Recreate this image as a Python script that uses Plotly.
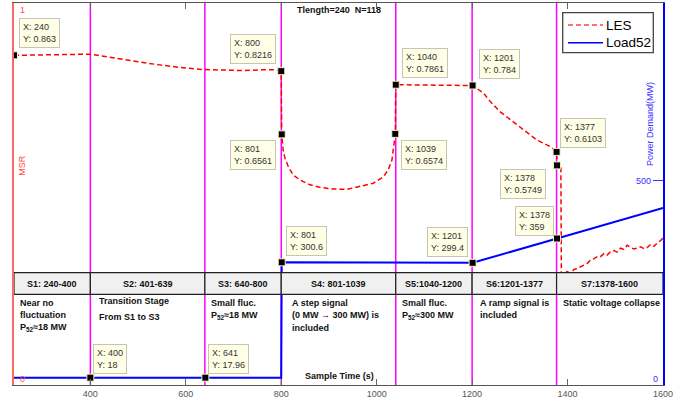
import plotly.graph_objects as go

# ---------------- data ----------------
les_x = [240, 280, 320, 360, 400, 420, 460, 500, 545, 590, 636, 680, 720, 760, 790, 800,
         801, 804, 808, 815, 825, 839, 860, 881, 909, 937, 965, 993, 1014, 1024, 1032, 1035, 1039,
         1040, 1070, 1100, 1130, 1168, 1201,
         1224, 1238, 1259, 1280, 1308, 1336, 1364, 1377,
         1378, 1386, 1387, 1392, 1399, 1406, 1413, 1420, 1427, 1434, 1441, 1448, 1455, 1462,
         1469, 1476, 1483, 1490, 1497, 1504, 1511, 1518, 1525, 1532, 1539, 1546, 1553, 1560,
         1567, 1574, 1581, 1588, 1595, 1600]
les_y = [0.863, 0.864, 0.865, 0.866, 0.866, 0.862, 0.853, 0.846, 0.838, 0.831, 0.826, 0.824, 0.823, 0.825, 0.825, 0.8216,
         0.6561, 0.615, 0.593, 0.571, 0.550, 0.537, 0.524, 0.5175, 0.513, 0.512, 0.519, 0.528, 0.545, 0.563, 0.589, 0.615, 0.6574,
         0.7861, 0.786, 0.785, 0.785, 0.785, 0.784,
         0.764, 0.742, 0.715, 0.694, 0.668, 0.641, 0.624, 0.6103,
         0.5749, 0.572, 0.29, 0.292, 0.297, 0.293, 0.302, 0.305, 0.31, 0.314, 0.318, 0.327, 0.33, 0.336,
         0.336, 0.344, 0.34, 0.349, 0.352, 0.348, 0.358, 0.355, 0.366, 0.36, 0.356, 0.358, 0.362, 0.357,
         0.36, 0.368, 0.363, 0.372, 0.378, 0.385]

load_x = [240, 400, 641, 800, 801, 1040, 1201, 1378, 1600]
load_y = [18, 18, 17.96, 18, 300.6, 300, 299.4, 359, 434]

stage_bounds = [240, 400, 640, 800, 1040, 1200, 1377, 1600]
stage_labels = ["S1: 240-400", "S2: 401-639", "S3: 640-800", "S4: 801-1039",
                "S5:1040-1200", "S6:1201-1377", "S7:1378-1600"]

tip_x = [240, 800, 1040, 1201, 801, 1039, 801, 1201, 1377, 1378, 1378, 400, 641]
tip_y = [0.863, 0.8216, 0.7861, 0.784, 0.6561, 0.6574, 300.6, 299.4, 0.6103, 0.5749, 359, 18, 17.96]
tip_axis = ["y", "y", "y", "y", "y", "y", "y2", "y2", "y", "y", "y2", "y2", "y2"]
# box placement relative to the tip point (anchor, xshift px, yshift px)
tip_place = [("left", 4.5, 37), ("right", -5, 37), ("left", 6, 37), ("left", 6.7, 36.5),
             ("right", -6, -5.6), ("left", 6, -6), ("left", 4.7, 36), ("right", -4.7, 36.3),
             ("left", 3.5, 33.6), ("right", -10.6, -3.9), ("right", -2.9, 32.6),
             ("left", 2.6, 33.7), ("left", 2.7, 33.7)]

W, H = 678, 405
ML, MR, MT, MB = 14, 15, 3, 20
PW, PH = W - ML - MR, H - MT - MB
FONT = "Liberation Sans, Arial, sans-serif"


def pxx(px):
    return (px - ML) / PW


def pxy(py):
    return (H - MB - py) / PH


fig = go.Figure()

fig.add_trace(go.Scatter(x=les_x, y=les_y, mode="lines", name="LES",
                         line=dict(color="#ff0000", width=1.5, dash="5px,3px"),
                         showlegend=False, hoverinfo="skip"))
fig.add_trace(go.Scatter(x=load_x, y=load_y, mode="lines", name="Load52", yaxis="y2",
                         line=dict(color="#0000ff", width=2),
                         showlegend=False, hoverinfo="skip"))

# data-tip markers
for ax in ("y", "y2"):
    xs = [x for x, a in zip(tip_x, tip_axis) if a == ax]
    ys = [y for y, a in zip(tip_y, tip_axis) if a == ax]
    fig.add_trace(go.Scatter(x=xs, y=ys, mode="markers", yaxis=ax, showlegend=False,
                             hoverinfo="skip",
                             marker=dict(symbol="square", size=7, color="#000000",
                                         line=dict(color="#f5f0c0", width=1))))

shapes = []
# magenta stage boundaries
for b in stage_bounds[1:-1]:
    shapes.append(dict(type="line", xref="x", yref="paper", x0=b, x1=b, y0=0, y1=1,
                       line=dict(color="#ff00ff", width=1.5), layer="below"))

# stage table band
band_y0, band_y1 = pxy(294.3), pxy(272.7)
annotations = []
for i, lab in enumerate(stage_labels):
    x0, x1 = stage_bounds[i], stage_bounds[i + 1]
    shapes.append(dict(type="rect", xref="x", yref="paper", x0=x0, x1=x1, y0=band_y0, y1=band_y1,
                       fillcolor="#f0f0f0", line=dict(color="#222222", width=1.2), layer="above"))
    annotations.append(dict(xref="x", yref="paper", x=(x0 + x1) / 2, y=(band_y0 + band_y1) / 2,
                            text="<b>" + lab + "</b>", showarrow=False,
                            font=dict(family=FONT, size=9, color="#111111"),
                            xanchor="center", yanchor="middle"))

# stage descriptions (left px, center y px, text)
desc = [(18, 302.7, "Near no"), (18, 315, "fluctuation"), (18, 327.5, "P<sub>52</sub>≈18 MW"),
        (97, 300.5, "Transition Stage"), (97, 316.5, "From S1 to S3"),
        (208.5, 302.7, "Small fluc."), (208.5, 315.5, "P<sub>52</sub>≈18 MW"),
        (290, 302.5, "A step signal"), (290, 315.3, "(0 MW → 300 MW) is"), (290, 328.3, "included"),
        (400, 302.5, "Small fluc."), (400, 315.5, "P<sub>52</sub>≈300 MW"),
        (477.5, 303.3, "A ramp signal is"), (477.5, 315, "included"),
        (560.5, 303.3, "Static voltage collapse")]
for px, py, t in desc:
    annotations.append(dict(xref="paper", yref="paper", x=pxx(px), y=pxy(py), text="<b>" + t + "</b>",
                            showarrow=False, xanchor="left", yanchor="middle",
                            font=dict(family=FONT, size=9, color="#111111")))

# data tips
for x, y, a, (anc, xs, ys) in zip(tip_x, tip_y, tip_axis, tip_place):
    annotations.append(dict(xref="x", yref=a, x=x, y=y, text=f"X: {x:g}<br>Y: {y:g}",
                            showarrow=False, xanchor=anc, yanchor="top", xshift=xs, yshift=ys,
                            align="left", bgcolor="#ffffe6", bordercolor="#c4c4b8", borderwidth=1,
                            borderpad=3, font=dict(family=FONT, size=9, color="#333333")))

# title & axis texts
annotations += [
    dict(xref="paper", yref="paper", x=pxx(338.5), y=pxy(10), text="<b>Tlength=240 \u00a0N=118</b>",
         showarrow=False, xanchor="center", yanchor="middle", font=dict(family=FONT, size=9, color="#111111")),
    dict(xref="paper", yref="paper", x=pxx(339.5), y=pxy(376), text="<b>Sample Time (s)</b>",
         showarrow=False, xanchor="center", yanchor="middle", font=dict(family=FONT, size=9, color="#111111")),
    dict(xref="paper", yref="paper", x=pxx(21.7), y=pxy(165), text="MSR", textangle=-90,
         showarrow=False, xanchor="center", yanchor="middle", font=dict(family=FONT, size=9, color="#ff4d4d")),
    dict(xref="paper", yref="paper", x=pxx(650), y=pxy(124), text="Power Demand(MW)", textangle=-90,
         showarrow=False, xanchor="center", yanchor="middle", font=dict(family=FONT, size=9, color="#3333ff")),
    dict(xref="paper", yref="paper", x=pxx(18), y=pxy(10), text="1",
         showarrow=False, xanchor="left", yanchor="middle", font=dict(family=FONT, size=9, color="#ff4d4d")),
    dict(xref="paper", yref="paper", x=pxx(18), y=pxy(378.5), text="0",
         showarrow=False, xanchor="left", yanchor="middle", font=dict(family=FONT, size=9, color="#ff4d4d")),
    dict(xref="paper", yref="paper", x=pxx(653), y=pxy(181), text="500",
         showarrow=False, xanchor="right", yanchor="middle", font=dict(family=FONT, size=9, color="#3333ff")),
    dict(xref="paper", yref="paper", x=pxx(660), y=pxy(379), text="0",
         showarrow=False, xanchor="right", yanchor="middle", font=dict(family=FONT, size=9, color="#3333ff")),
]

# manual legend
shapes.append(dict(type="rect", xref="paper", yref="paper", x0=pxx(562.7), x1=pxx(653.3),
                   y0=pxy(52.7), y1=pxy(12.7), fillcolor="#ffffff",
                   line=dict(color="#444444", width=1.3), layer="above"))
shapes.append(dict(type="line", xref="paper", yref="paper", x0=pxx(568), x1=pxx(603),
                   y0=pxy(25), y1=pxy(25), line=dict(color="#ff4444", width=1.5, dash="5px,3px"), layer="above"))
shapes.append(dict(type="line", xref="paper", yref="paper", x0=pxx(568), x1=pxx(603),
                   y0=pxy(42.7), y1=pxy(42.7), line=dict(color="#0000ff", width=1.5), layer="above"))
annotations += [
    dict(xref="paper", yref="paper", x=pxx(604), y=pxy(25), text="LES", showarrow=False,
         xanchor="left", yanchor="middle", font=dict(family=FONT, size=13.5, color="#000000")),
    dict(xref="paper", yref="paper", x=pxx(604), y=pxy(42.7), text="Load52", showarrow=False,
         xanchor="left", yanchor="middle", font=dict(family=FONT, size=13.5, color="#000000")),
]

fig.update_layout(
    width=W, height=H,
    margin=dict(l=ML, r=MR, t=MT, b=MB, pad=0),
    paper_bgcolor="#ffffff", plot_bgcolor="#ffffff",
    showlegend=False,
    shapes=shapes, annotations=annotations,
    xaxis=dict(range=[240, 1600], tickvals=[400, 600, 800, 1000, 1200, 1400, 1600],
               ticks="inside", ticklen=6, tickcolor="#666666", tickwidth=1,
               showline=True, linecolor="#555555", linewidth=1, mirror="ticks",
               showgrid=False, zeroline=False,
               tickfont=dict(family=FONT, size=9, color="#555555")),
    yaxis=dict(range=[0, 1], tickvals=[0, 1], ticks="inside", ticklen=6, tickcolor="#ff5555",
               showticklabels=False, showline=True, linecolor="#ff6666", linewidth=2,
               showgrid=False, zeroline=False),
    yaxis2=dict(range=[0, 936], overlaying="y", side="right", tickvals=[500], ticks="inside",
                ticklen=10, tickcolor="#3333ff", showticklabels=False, showline=True,
                linecolor="#0000ff", linewidth=1.5, showgrid=False, zeroline=False),
)

fig.write_html("out.html", config={"displayModeBar": False},
               post_script="document.body.style.margin='0px';document.body.style.padding='0px';")
